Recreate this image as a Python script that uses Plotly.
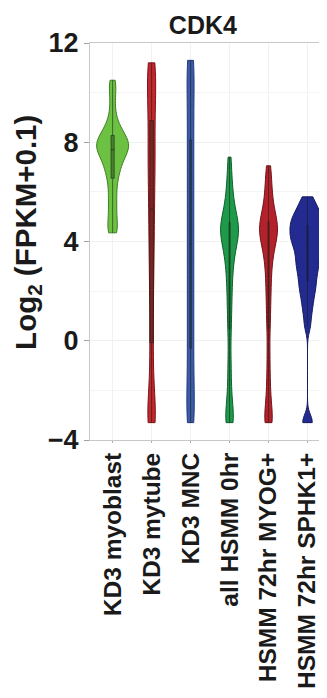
import plotly.graph_objects as go

categories = ["KD3 myoblast", "KD3 mytube", "KD3 MNC", "all HSMM 0hr",
              "HSMM 72hr MYOG+", "HSMM 72hr SPHK1+"]

kd3_myoblast = [4.35, 4.45, 4.7, 5.0, 5.3, 5.6, 5.9, 6.2, 6.5, 6.7, 6.9, 7.0,
                7.2, 7.3, 7.4, 7.5, 7.6, 7.7, 7.75, 7.8, 7.85, 7.9, 8.0, 8.05,
                8.1, 8.2, 8.3, 8.4, 8.5, 8.7, 8.9, 9.3, 9.8, 10.2, 10.5]
kd3_mytube = [-3.3, -3.3, -3.2, -3.0, -2.6, -2.0, -1.2, -0.3, 0.6, 1.5, 2.3,
              3.0, 3.6, 4.2, 4.8, 5.3, 5.8, 6.3, 6.8, 7.2, 7.6, 8.0, 8.5, 9.0,
              9.4, 9.8, 10.2, 10.6, 10.9, 11.1, 11.2]
kd3_mnc = [-3.3, -3.3, -2.9, -2.4, -1.8, -1.2, -0.6, 0.0, 0.6, 1.2, 1.8, 2.4,
           3.0, 3.6, 4.2, 4.8, 5.4, 6.0, 6.6, 7.2, 7.8, 8.4, 9.0, 9.6, 10.2,
           10.8, 11.3, 11.3]
all_hsmm_0hr = [-3.3, -3.3, -3.1, -2.7, -2.2, -1.5, -0.7, 0.3, 1.0, 1.6, 2.1,
                2.6, 3.0, 3.3, 3.6, 3.8, 4.0, 4.2, 4.3, 4.4, 4.5, 4.6, 4.7,
                4.8, 5.0, 5.2, 5.5, 5.8, 6.2, 6.7, 7.4]
hsmm_72hr_myog = [-3.3, -3.3, -3.1, -2.7, -2.1, -1.4, -0.5, 0.5, 1.2, 1.8,
                  2.3, 2.8, 3.2, 3.5, 3.8, 4.0, 4.2, 4.3, 4.4, 4.5, 4.6, 4.7,
                  4.8, 5.0, 5.2, 5.5, 5.8, 6.2, 6.6, 7.05]
hsmm_72hr_sphk1 = [-3.3, -3.25, 0.6, 1.1, 1.45, 1.75, 2.0, 2.2, 2.4, 2.6, 2.8,
                   2.95, 3.1, 3.25, 3.4, 3.55, 3.7, 3.85, 3.95, 4.05, 4.15,
                   4.25, 4.35, 4.45, 4.55, 4.65, 4.75, 4.85, 4.95, 5.05, 5.2,
                   5.35, 5.55, 5.8]

series = [kd3_myoblast, kd3_mytube, kd3_mnc, all_hsmm_0hr, hsmm_72hr_myog,
          hsmm_72hr_sphk1]

fills = ["#6CC143", "#C1272D", "#3B5BA8", "#1F9A4A", "#B3222B", "#232A90"]
lines = ["#3E7F22", "#7E1419", "#22397A", "#0F5E2A", "#70131A", "#141A5E"]
widths = [0.82, 0.21, 0.19, 0.46, 0.46, 0.9]
bws = [0.35, 0.9, 1.0, 0.55, 0.55, 0.3]
box_w = [0.1, 0.45, 0.2, 0.06, 0.06, 0.03]

fig = go.Figure()
for cat, vals, fc, lc, w, bw, bxw in zip(categories, series, fills, lines,
                                         widths, bws, box_w):
    fig.add_trace(go.Violin(
        x=[cat] * len(vals), y=vals, name=cat,
        fillcolor=fc, line=dict(color=lc, width=1), opacity=1,
        width=w, bandwidth=bw, spanmode="hard", points=False,
        box=dict(visible=True, width=bxw, fillcolor="rgba(20,30,20,0.4)",
                 line=dict(color="rgba(20,30,20,0.55)", width=1)),
        meanline=dict(visible=False), showlegend=False, hoverinfo="skip",
    ))

fig.add_annotation(
    text="<b>Log<sub>2</sub> (FPKM+0.1)</b>", textangle=-90,
    xref="paper", yref="paper", x=-0.262, y=0.524,
    xanchor="center", yanchor="middle", showarrow=False,
    font=dict(size=29.5, color="#1a1a1a"),
)

fig.update_layout(
    width=319, height=690,
    margin=dict(l=82, r=0, t=35, b=258, autoexpand=False),
    paper_bgcolor="white", plot_bgcolor="white",
    font=dict(family="Liberation Sans, Arial, sans-serif", color="#1a1a1a"),
    title=dict(text="<b>CDK4</b>", x=0.611, xanchor="center",
               xref="container", yref="container", y=0.975,
               yanchor="middle", font=dict(size=25, color="#1a1a1a"),
               automargin=False),
    xaxis=dict(
        type="category", categoryorder="array", categoryarray=categories,
        range=[-0.58, 5.5], tickangle=-90, automargin=False,
        tickfont=dict(size=24.5, weight="bold", color="#1a1a1a"),
        showgrid=True, gridcolor="#f1f1f1", gridwidth=1,
        showline=True, linecolor="#c8c8c8", linewidth=1, mirror=True,
        ticks="outside", ticklen=2, tickcolor="#b0b0b0", zeroline=False,
    ),
    yaxis=dict(
        range=[-4, 12], tickvals=[-4, 0, 4, 8, 12], automargin=False,
        tickfont=dict(size=27, weight="bold", color="#1a1a1a"),
        showgrid=True, gridcolor="#f1f1f1", gridwidth=1,
        minor=dict(dtick=2, showgrid=True, gridcolor="#f4f4f4"),
        showline=True, linecolor="#c8c8c8", linewidth=1, mirror=True,
        ticks="outside", ticklen=5, tickcolor="#a0a0a0", zeroline=False,
    ),
    violingap=0, violinmode="overlay",
)

fig.write_html("out.html")
